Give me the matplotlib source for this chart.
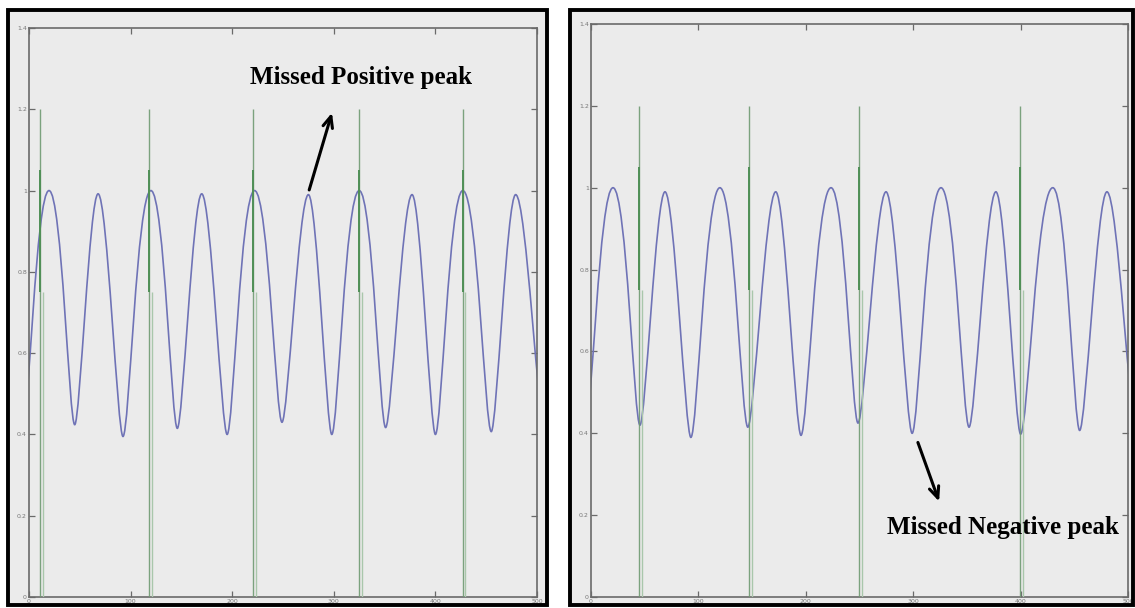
import numpy as np
import matplotlib
matplotlib.use("Agg")
import matplotlib.pyplot as plt
from matplotlib.path import Path
from matplotlib.patches import PathPatch, Rectangle

W, H = 1135, 608

# turning points of the filtered signal (sample, amplitude); first/last lie just outside the window
left_x = [-6, 19.7, 45, 68, 92.5, 120, 146, 170, 195, 222, 249, 275, 298,
          325, 351, 377, 400, 427, 455, 479, 508]
left_y = [0.42, 1.00, 0.424, 0.992, 0.395, 1.00, 0.415, 0.992, 0.40, 1.00, 0.43,
          0.99, 0.40, 1.00, 0.417, 0.99, 0.40, 1.00, 0.407, 0.99, 0.40]

right_x = [-5, 20.5, 45.6, 68.9, 93, 120, 146, 172, 195.5, 223.5, 248.6, 274.7,
           299, 325.9, 352, 377, 400, 430, 455, 480.4, 508]
right_y = [0.42, 1.00, 0.42, 0.99, 0.39, 1.00, 0.415, 0.99, 0.395, 1.00, 0.425,
           0.99, 0.40, 1.00, 0.415, 0.99, 0.398, 1.00, 0.407, 0.99, 0.40]

# detected peak markers
left_spikes = [10.8, 118, 220.5, 325, 427]
right_spikes = [44.7, 147, 249.5, 399.5]
SPIKE_TOP = 1.2
MARK_TOP = 1.05
MARK_BOTTOM = 0.75

X_TICKS = [0, 100, 200, 300, 400, 500]
Y_TICKS = [0, 0.2, 0.4, 0.6, 0.8, 1.0, 1.2, 1.4]
Y_LABELS = ["0", "0.2", "0.4", "0.6", "0.8", "1", "1.2", "1.4"]

BLUE = "#6f73b6"
GREEN = "#6f9a72"
GREEN_DARK = "#4f8f56"
GREEN_LIGHT = "#a9c7ab"
BG = "#ebebeb"
SPINE = "#6a6a6a"


def wave_path(xs, ys):
    """Smooth curve through the turning points: flat tops, sharp troughs."""
    def k_of(y):
        if y < 0.7:
            return 0.22
        return 0.5 if y >= 0.995 else 0.36

    verts = [(xs[0], ys[0])]
    codes = [Path.MOVETO]
    for x0, y0, x1, y1 in zip(xs[:-1], ys[:-1], xs[1:], ys[1:]):
        dx = x1 - x0
        verts += [(x0 + k_of(y0) * dx, y0), (x1 - k_of(y1) * dx, y1), (x1, y1)]
        codes += [Path.CURVE4] * 3
    return Path(verts, codes)


def panel_frame(fig, x0, x1, y0=10, y1=605):
    r = dict(xy=(x0 / W, 1 - y1 / H), width=(x1 - x0) / W, height=(y1 - y0) / H,
             transform=fig.transFigure)
    fig.patches.append(Rectangle(**r, facecolor=BG, edgecolor="none", zorder=-1))
    fig.patches.append(Rectangle(**r, facecolor="none", edgecolor="black", lw=2.8, zorder=5))


def draw_panel(ax, xs, ys, spikes):
    ax.set_facecolor(BG)
    ax.add_patch(PathPatch(wave_path(xs, ys), fill=False, edgecolor=BLUE, lw=1.2, zorder=2))

    ax.vlines(spikes, 0, SPIKE_TOP, color=GREEN, lw=1.0, alpha=0.9, zorder=3)
    ax.vlines([s + 2.6 for s in spikes], 0, MARK_BOTTOM, color=GREEN_LIGHT, lw=1.0, zorder=3)
    ax.vlines(spikes, MARK_BOTTOM, MARK_TOP, color=GREEN_DARK, lw=1.4, zorder=3)

    ax.set_xlim(0, 500)
    ax.set_ylim(0, 1.4)
    ax.set_xticks(X_TICKS)
    ax.set_xticklabels([str(t) for t in X_TICKS], fontsize=4.5, color="#777777")
    ax.set_yticks(Y_TICKS)
    ax.set_yticklabels(Y_LABELS, fontsize=4.5, color="#777777")
    ax.tick_params(direction="in", top=True, right=True, length=4, width=0.9,
                   color=SPINE, pad=1.5)
    for s in ax.spines.values():
        s.set_color(SPINE)
        s.set_linewidth(1.2)


fig = plt.figure(figsize=(W / 100, H / 100), dpi=100)

panel_frame(fig, 8, 547)
panel_frame(fig, 570, 1133)

ax1 = fig.add_axes([29 / W, 1 - 597 / H, 508 / W, 569 / H])
ax2 = fig.add_axes([591 / W, 1 - 597 / H, 537 / W, 573 / H])

draw_panel(ax1, left_x, left_y, left_spikes)
draw_panel(ax2, right_x, right_y, right_spikes)

label_font = dict(family="Liberation Serif", fontweight="bold", fontsize=18,
                  ha="center", va="center")
arrow = dict(arrowstyle="->,head_length=0.8,head_width=0.35", color="black", lw=2.2)

ax1.annotate("", xy=(299, 1.198), xytext=(275, 0.995), arrowprops=arrow, zorder=4)
ax1.text(327, 1.277, "Missed Positive peak", **label_font, zorder=4)

ax2.annotate("", xy=(325, 0.227), xytext=(303.5, 0.384), arrowprops=arrow, zorder=4)
ax2.text(383.6, 0.169, "Missed Negative peak", **label_font, zorder=4)

fig.savefig("out.png", dpi=100)
